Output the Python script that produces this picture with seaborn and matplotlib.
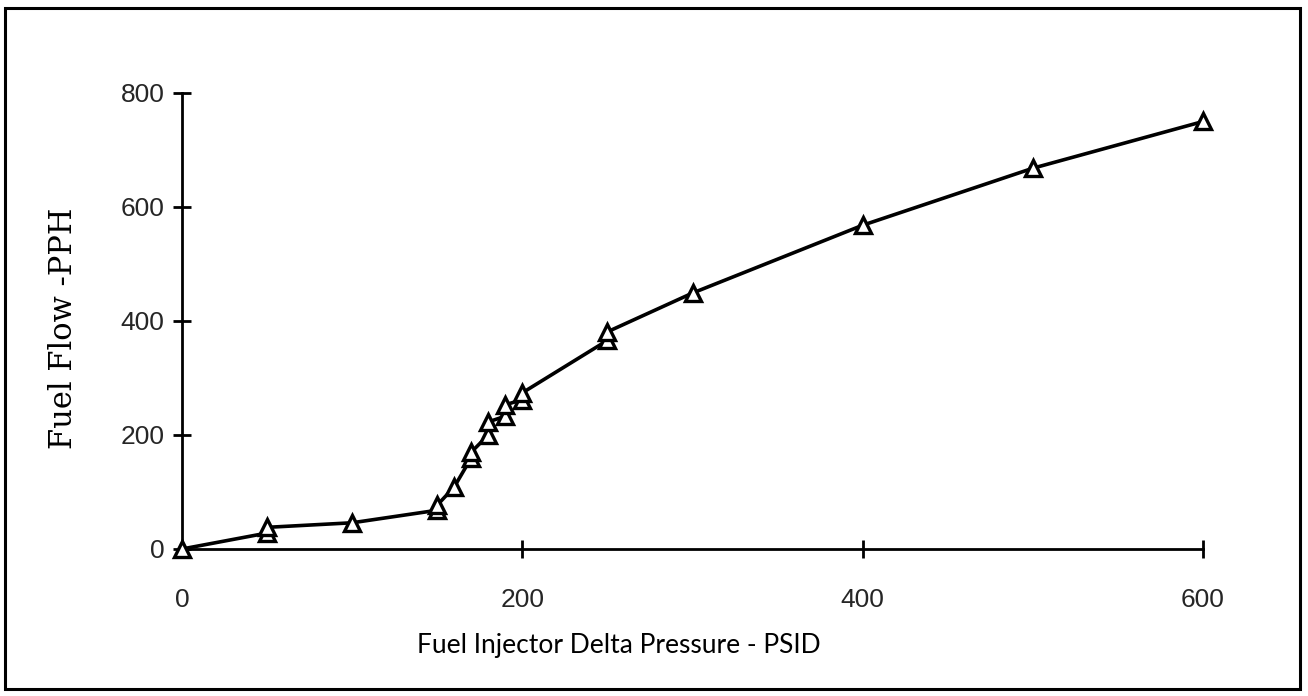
import matplotlib
matplotlib.use("Agg")
import matplotlib.pyplot as plt
from matplotlib.patches import Rectangle
import pandas as pd
import seaborn as sns

# Injector calibration: delta pressure (PSID) vs. fuel flow (PPH)
delta_pressure = [0, 50, 50, 100, 150, 150, 160, 170, 170, 180, 180,
                  190, 190, 200, 200, 250, 250, 300, 400, 500, 600]
fuel_flow = [0, 28, 38, 46, 68, 77, 109, 160, 170, 200, 223,
             233, 253, 262, 274, 366, 381, 449, 568, 668, 750]

x_ticks = [0, 200, 400, 600]
y_ticks = [0, 200, 400, 600, 800]

df = pd.DataFrame({"dp": delta_pressure, "flow": fuel_flow})

sns.set_theme(style="white")
plt.rcParams["font.family"] = ["Liberation Sans", "DejaVu Sans"]

fig = plt.figure(figsize=(13.08, 6.96), dpi=100)
ax = fig.add_axes([182 / 1308, 1 - 549 / 696, (1203 - 182) / 1308, (549 - 93) / 696])

sns.lineplot(data=df, x="dp", y="flow", ax=ax, estimator=None, sort=False,
             color="black", linewidth=2.6, marker="^", markersize=12,
             markerfacecolor="white", markeredgecolor="black",
             markeredgewidth=2.4, clip_on=False, zorder=5)

ax.set_xlim(0, 600)
ax.set_ylim(0, 800)
ax.set_xticks(x_ticks)
ax.set_yticks(y_ticks)
ax.set_xticklabels([str(v) for v in x_ticks])
ax.set_yticklabels([str(v) for v in y_ticks])

for side in ("top", "right"):
    ax.spines[side].set_visible(False)
for side in ("left", "bottom"):
    ax.spines[side].set_color("black")
    ax.spines[side].set_linewidth(2.0)

ax.tick_params(axis="y", direction="inout", length=13, width=2,
               color="black", labelsize=19, pad=6, left=True)
ax.tick_params(axis="x", direction="inout", length=13, width=2,
               color="black", labelsize=19, pad=21.5, bottom=True)

ax.set_xlabel("")
ax.set_ylabel("")
fig.text(619 / 1308, 1 - 645 / 696, "Fuel Injector Delta Pressure - PSID",
         ha="center", va="center", fontsize=19, family="Lato", color="black")
fig.text(63 / 1308, 1 - 328 / 696, "Fuel Flow -PPH", rotation=90,
         ha="center", va="center", fontsize=22, family="DejaVu Serif",
         color="black")

# Frame around the whole figure
fig.patches.append(Rectangle((5 / 1308, 1 - 689 / 696), (1300 - 5) / 1308,
                             (689 - 8) / 696, transform=fig.transFigure,
                             fill=False, edgecolor="black", linewidth=2.2))

fig.savefig("out.png", dpi=100, facecolor="white")
